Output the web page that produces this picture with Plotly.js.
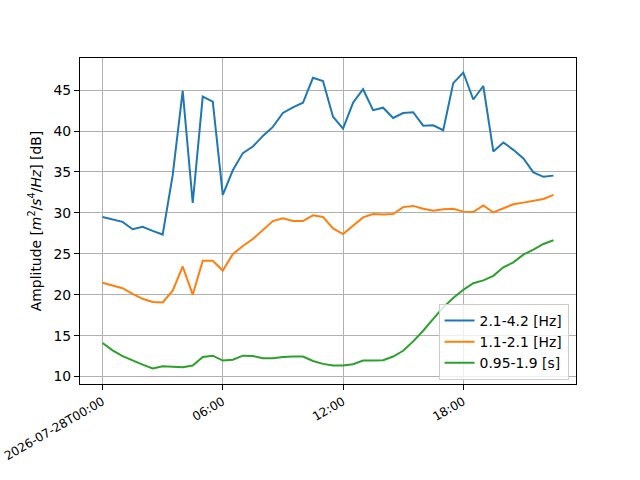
<!DOCTYPE html>
<html>
<head>
<meta charset="utf-8">
<script src="https://cdn.plot.ly/plotly-3.0.1.min.js"></script>
<style>html,body{margin:0;padding:0;background:#fff;}#chart{width:640px;height:480px;}</style>
</head>
<body>
<div id="chart"></div>
<script>
var times = [
 "2026-07-28 00:00","2026-07-28 00:30","2026-07-28 01:00","2026-07-28 01:30",
 "2026-07-28 02:00","2026-07-28 02:30","2026-07-28 03:00","2026-07-28 03:30",
 "2026-07-28 04:00","2026-07-28 04:30","2026-07-28 05:00","2026-07-28 05:30",
 "2026-07-28 06:00","2026-07-28 06:30","2026-07-28 07:00","2026-07-28 07:30",
 "2026-07-28 08:00","2026-07-28 08:30","2026-07-28 09:00","2026-07-28 09:30",
 "2026-07-28 10:00","2026-07-28 10:30","2026-07-28 11:00","2026-07-28 11:30",
 "2026-07-28 12:00","2026-07-28 12:30","2026-07-28 13:00","2026-07-28 13:30",
 "2026-07-28 14:00","2026-07-28 14:30","2026-07-28 15:00","2026-07-28 15:30",
 "2026-07-28 16:00","2026-07-28 16:30","2026-07-28 17:00","2026-07-28 17:30",
 "2026-07-28 18:00","2026-07-28 18:30","2026-07-28 19:00","2026-07-28 19:30",
 "2026-07-28 20:00","2026-07-28 20:30","2026-07-28 21:00","2026-07-28 21:30",
 "2026-07-28 22:00","2026-07-28 22:30"
];
var band_hz_high = [
 29.5,29.2,28.9,28.0,28.3,27.8,27.35,34.6,44.9,31.2,44.2,43.6,
 32.2,35.2,37.3,38.1,39.4,40.5,42.2,42.9,43.45,46.5,46.1,41.75,
 40.3,43.45,45.1,42.55,42.85,41.6,42.2,42.3,40.65,40.7,40.1,45.85,
 47.15,43.85,45.5,37.5,38.6,37.7,36.65,34.95,34.4,34.55
];
var band_hz_low = [
 21.45,21.1,20.8,20.1,19.5,19.1,19.05,20.5,23.45,20.0,24.15,24.15,
 22.95,24.95,25.95,26.8,27.9,29.0,29.35,29.0,29.0,29.7,29.5,28.1,
 27.4,28.45,29.45,29.85,29.8,29.85,30.7,30.85,30.5,30.25,30.45,30.5,
 30.15,30.1,30.9,30.05,30.55,31.05,31.25,31.5,31.7,32.2
];
var band_period = [
 14.1,13.2,12.5,11.95,11.45,11.0,11.25,11.2,11.15,11.35,12.4,12.55,
 11.95,12.05,12.55,12.5,12.25,12.25,12.4,12.45,12.45,11.9,11.55,11.35,
 11.35,11.5,11.95,11.95,12.0,12.45,13.15,14.3,15.6,17.05,18.45,19.6,
 20.6,21.4,21.75,22.3,23.35,23.95,24.9,25.5,26.2,26.65
];
var seriesNames = ["2.1-4.2 [Hz]","1.1-2.1 [Hz]","0.95-1.9 [s]"];
var seriesColors = ["#1f77b4","#ff7f0e","#2ca02c"];
var tickVals = ["2026-07-28 00:00","2026-07-28 06:00","2026-07-28 12:00","2026-07-28 18:00"];
var tickText = ["2026-07-28T00:00","06:00","12:00","18:00"];
var yTicks = [10,15,20,25,30,35,40,45];

var allY = [band_hz_high, band_hz_low, band_period];
var traces = allY.map(function(y, i){
  return {x: times, y: y, type: "scatter", mode: "lines", name: seriesNames[i],
          line: {color: seriesColors[i], width: 2}};
});

var layout = {
  width: 640, height: 480,
  paper_bgcolor: "#fff", plot_bgcolor: "#fff",
  margin: {l: 80, r: 64, t: 58, b: 96, pad: 0},
  font: {family: "DejaVu Sans", size: 13.9, color: "#000"},
  showlegend: true,
  legend: {x: 0.985, y: 0.012, xanchor: "right", yanchor: "bottom",
           bgcolor: "rgba(255,255,255,0.8)", bordercolor: "#cccccc", borderwidth: 1,
           itemwidth: 30,
           font: {family: "DejaVu Sans", size: 13.9}, tracegroupgap: 0},
  xaxis: {
    type: "date",
    range: ["2026-07-27 22:52:30", "2026-07-28 23:37:30"],
    tickvals: tickVals, ticktext: tickText, tickangle: -30,
    tickfont: {family: "DejaVu Sans", size: 12.2},
    showgrid: true, gridcolor: "#b0b0b0", gridwidth: 1,
    ticks: "outside", ticklen: 5, tickwidth: 1, tickcolor: "#000",
    showline: true, linecolor: "#000", linewidth: 1, mirror: true,
    zeroline: false
  },
  yaxis: {
    range: [9.09, 48.92],
    tickvals: yTicks,
    showgrid: true, gridcolor: "#b0b0b0", gridwidth: 1,
    ticks: "outside", ticklen: 5, tickwidth: 1, tickcolor: "#000",
    showline: true, linecolor: "#000", linewidth: 1, mirror: true,
    zeroline: false,
    title: {text: "Amplitude [<i>m</i><sup>2</sup>/<i>s</i><sup>4</sup>/<i>Hz</i>] [dB]",
            font: {family: "DejaVu Sans", size: 13.9}, standoff: 8}
  }
};
Plotly.newPlot("chart", traces, layout, {displayModeBar: false, staticPlot: true});
</script>
</body>
</html>
